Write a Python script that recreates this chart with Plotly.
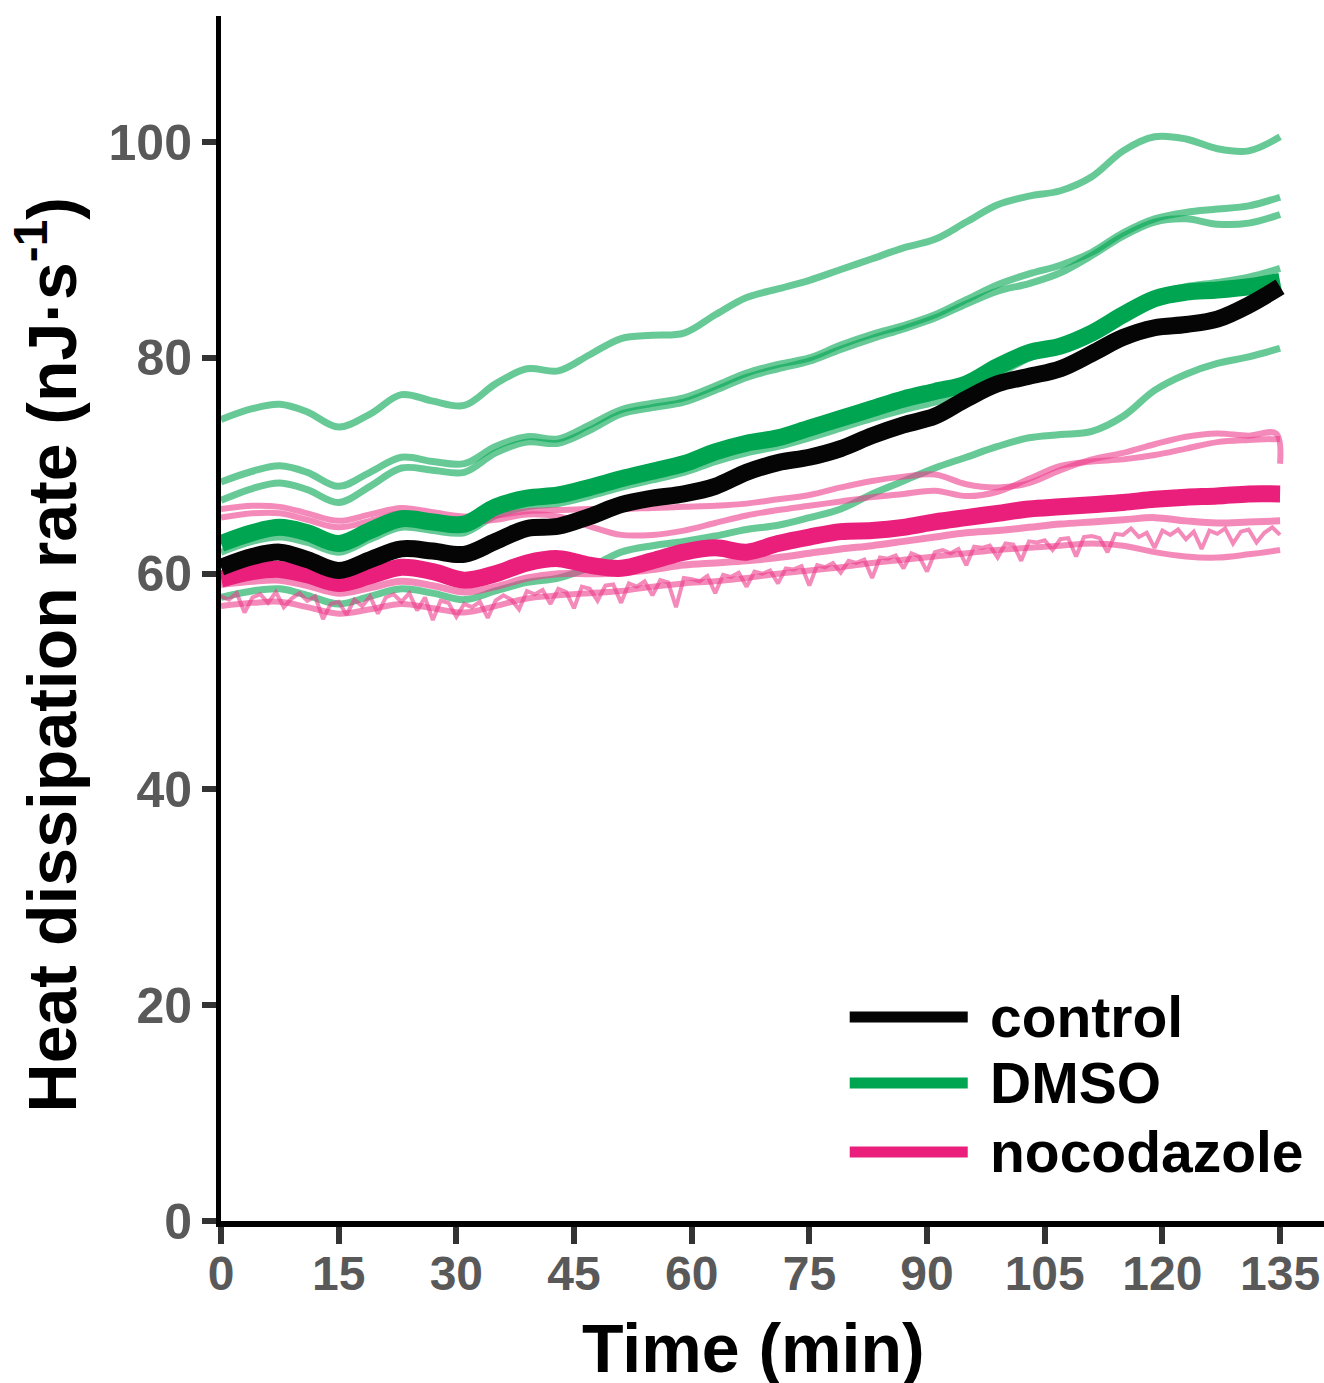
import plotly.graph_objects as go

# ---------------- data ----------------
t_grid = [0, 4, 7.5, 11, 15, 19, 23, 27, 31, 35, 39, 43, 47, 51, 55, 59, 63, 67, 71,
          75, 79, 83, 87, 91, 95, 99, 103, 107, 111, 115, 119, 123, 127, 131, 135]

control = [60.6, 61.6, 62.0, 61.3, 60.3, 61.3, 62.3, 62.1, 61.8, 63.0, 64.2, 64.4, 65.3,
           66.4, 67.0, 67.4, 68.1, 69.4, 70.3, 70.8, 71.6, 72.8, 73.8, 74.6, 76.2, 77.6,
           78.3, 79.0, 80.4, 81.9, 82.8, 83.1, 83.6, 84.9, 86.6]

dmso_mean = [62.8, 63.8, 64.3, 63.8, 62.8, 64.0, 65.1, 64.8, 64.6, 66.2, 67.0, 67.3, 68.0,
             68.8, 69.5, 70.2, 71.3, 72.1, 72.6, 73.5, 74.4, 75.3, 76.2, 76.9, 77.6, 79.2,
             80.5, 81.1, 82.3, 84.0, 85.5, 86.1, 86.3, 86.6, 87.1]

dmso_1 = [74.3, 75.3, 75.7, 75.0, 73.6, 74.8, 76.6, 76.0, 75.6, 77.6, 79.0, 78.8, 80.3,
          81.8, 82.1, 82.3, 84.0, 85.6, 86.4, 87.2, 88.2, 89.2, 90.2, 91.0, 92.6, 94.2,
          95.0, 95.5, 96.8, 99.2, 100.5, 100.3, 99.4, 99.2, 100.5]
dmso_2 = [68.5, 69.5, 70.0, 69.4, 68.1, 69.4, 70.8, 70.4, 70.2, 71.8, 72.7, 72.5, 73.8,
          75.2, 75.8, 76.3, 77.4, 78.6, 79.4, 80.0, 81.2, 82.2, 83.0, 84.0, 85.4, 86.8,
          87.8, 88.6, 89.8, 91.6, 92.9, 93.5, 93.8, 94.1, 94.9]
dmso_3 = [66.8, 67.9, 68.4, 67.8, 66.6, 68.1, 69.8, 69.6, 69.4, 71.2, 72.2, 72.1, 73.3,
          74.8, 75.4, 75.9, 77.0, 78.2, 79.0, 79.7, 80.8, 81.8, 82.7, 83.7, 85.0, 86.2,
          86.9, 87.9, 89.5, 91.3, 92.6, 92.9, 92.4, 92.5, 93.3]
dmso_4 = [62.0, 63.0, 63.4, 62.9, 62.0, 63.2, 64.3, 64.0, 63.8, 65.4, 66.2, 66.5, 67.2,
          68.0, 68.7, 69.4, 70.4, 71.2, 71.8, 72.6, 73.5, 74.4, 75.2, 75.9, 76.8, 78.4,
          80.0, 81.0, 82.4, 84.2, 85.8, 86.6, 87.0, 87.5, 88.3]
dmso_5 = [57.8, 58.4, 58.6, 58.0, 57.2, 57.9, 58.6, 58.2, 57.6, 58.4, 59.2, 59.6, 60.6,
          62.0, 62.6, 63.0, 63.5, 64.1, 64.5, 65.2, 66.0, 67.4, 68.6, 69.8, 70.8, 71.8,
          72.6, 72.9, 73.2, 74.6, 77.0, 78.5, 79.5, 80.1, 80.9]

noco_mean = [59.5, 60.2, 60.4, 59.9, 59.1, 59.8, 60.6, 60.2, 59.4, 60.0, 61.0, 61.4, 60.8,
             60.5, 61.2, 62.0, 62.4, 62.0, 62.8, 63.4, 63.9, 64.0, 64.3, 64.8, 65.2, 65.6,
             66.0, 66.2, 66.4, 66.6, 66.9, 67.1, 67.2, 67.4, 67.4]

t_noco_1 = [0, 4, 7.5, 11, 15, 19, 23, 27, 31, 35, 39, 43, 47, 51, 55, 59, 63, 67, 71,
            75, 79, 83, 87, 91, 95, 99, 103, 107, 111, 115, 119, 123, 127, 131, 134.5, 135]
noco_1 = [66.0, 66.3, 66.2, 65.6, 64.9, 65.5, 66.1, 65.7, 65.3, 65.4, 65.8, 65.9, 66.0,
          66.0, 66.1, 66.2, 66.3, 66.5, 66.9, 67.3, 68.0, 68.6, 69.0, 69.2, 68.3, 68.0,
          68.4, 69.6, 70.6, 71.2, 72.0, 72.7, 73.0, 72.8, 73.0, 70.2]
noco_2 = [65.2, 65.6, 65.6, 65.0, 64.3, 64.9, 65.6, 65.2, 64.8, 65.0, 65.5, 65.3, 64.4,
          63.6, 63.6, 64.0, 64.7, 65.4, 65.9, 66.3, 66.7, 67.1, 67.4, 67.7, 67.2, 67.6,
          68.8, 70.0, 70.4, 70.6, 71.0, 71.6, 72.2, 72.4, 72.5]
noco_3 = [59.0, 59.3, 59.4, 58.9, 58.2, 58.7, 59.3, 58.9, 58.3, 58.8, 59.6, 60.0, 60.0,
          60.1, 60.4, 60.8, 61.0, 61.2, 61.5, 61.9, 62.3, 62.6, 63.0, 63.4, 63.8, 64.0,
          64.3, 64.6, 64.8, 65.0, 65.2, 64.9, 64.7, 64.8, 64.9]
noco_5 = [57.0, 57.3, 57.4, 56.9, 56.3, 56.7, 57.2, 56.8, 56.4, 57.0, 57.7, 58.0, 58.2,
          58.4, 58.8, 59.1, 59.3, 59.6, 60.0, 60.3, 60.6, 61.0, 61.3, 61.6, 61.9, 62.2,
          62.4, 62.6, 62.8, 62.6, 62.0, 61.6, 61.5, 61.8, 62.2]

# noisy nocodazole trace, one reading per minute
t_minutes = list(range(0, 136))
noco_4 = [57.9, 57.6, 58.2, 56.4, 57.8, 58.1, 57.3, 58.3, 56.9, 57.7, 58.2,
          57.5, 57.9, 55.8, 57.2, 57.4, 56.2, 57.6, 57.0, 57.9, 56.3,
          57.8, 58.1, 57.4, 58.2, 56.6, 57.8, 55.7, 57.5, 57.3, 56.0,
          57.2, 56.9, 57.4, 55.9, 57.5, 58.0, 57.6, 56.7, 58.4, 58.1,
          58.5, 57.2, 58.6, 58.3, 56.8, 58.8, 58.6, 57.5, 58.9, 59.0,
          57.3, 59.1, 58.8, 59.3, 58.0, 59.4, 59.2, 56.9, 59.6, 59.5,
          59.3, 59.8, 58.2, 59.9, 59.7, 60.1, 58.8, 60.2, 60.0, 60.3,
          59.1, 60.5, 60.4, 60.7, 58.9, 60.8, 60.6, 61.0, 60.1, 61.2,
          61.0, 61.3, 59.6, 61.5, 61.4, 61.7, 60.5, 61.9, 61.6, 60.2,
          62.0, 62.2, 61.9, 62.3, 60.8, 62.5, 62.4, 62.6, 61.5, 62.8,
          62.7, 61.2, 63.0, 62.9, 63.1, 62.2, 63.2, 63.3, 61.6, 63.4,
          63.5, 63.3, 62.0, 63.7, 63.6, 64.2, 63.4, 63.8, 62.4, 64.0,
          63.6, 64.1, 63.2, 63.9, 62.3, 64.0, 63.7, 64.2, 62.8, 63.9,
          64.1, 62.9, 63.8, 64.3, 63.6]

x_ticks = [0, 15, 30, 45, 60, 75, 90, 105, 120, 135]
y_ticks = [0, 20, 40, 60, 80, 100]
legend_names = ["control", "DMSO", "nocodazole"]

# ---------------- styles ----------------
BLACK = "#050505"
GREEN = "#00A551"
MAGENTA = "#E91F7B"
LIGHT_GREEN = "rgba(0,165,80,0.6)"
LIGHT_PINK = "rgba(236,60,140,0.6)"
FONT = "Liberation Sans, Arial, sans-serif"

fig = go.Figure()

def add(x, y, color, width, shape="spline"):
    fig.add_trace(go.Scatter(x=x, y=y, mode="lines", showlegend=False, hoverinfo="skip",
                             line=dict(color=color, width=width, shape=shape)))

for g in [dmso_1, dmso_2, dmso_3, dmso_4, dmso_5]:
    add(t_grid, g, LIGHT_GREEN, 7)
add(t_noco_1, noco_1, LIGHT_PINK, 6)
add(t_grid, noco_2, LIGHT_PINK, 6)
add(t_grid, noco_3, LIGHT_PINK, 7)
add(t_grid, noco_5, LIGHT_PINK, 6)
add(t_minutes, noco_4, LIGHT_PINK, 4, shape="linear")

add(t_grid, dmso_mean, GREEN, 17)
add(t_grid, noco_mean, MAGENTA, 17)
add(t_grid, control, BLACK, 17)

# ---------------- legend (drawn manually for long line samples) ----------------
legend_colors = [BLACK, GREEN, MAGENTA]
legend_y = [0.1693, 0.1145, 0.0573]
for name, col, yy in zip(legend_names, legend_colors, legend_y):
    fig.add_shape(type="line", xref="paper", yref="paper", x0=0.570, x1=0.677, y0=yy, y1=yy,
                  line=dict(color=col, width=11))
    fig.add_annotation(xref="paper", yref="paper", x=0.695, y=yy, text=f"<b>{name}</b>",
                       showarrow=False, xanchor="left", yanchor="middle",
                       font=dict(family=FONT, size=57, color="#000"))

# ---------------- axis titles ----------------
fig.add_annotation(xref="paper", yref="paper", x=0.483, y=-0.105, text="<b>Time (min)</b>",
                   showarrow=False, xanchor="center", yanchor="middle",
                   font=dict(family=FONT, size=68, color="#000"))
fig.add_annotation(xref="paper", yref="paper", x=-0.158, y=0.470,
                   text="<b>Heat dissipation rate (nJ·s<sup>-1</sup>)</b>",
                   showarrow=False, xanchor="center", yanchor="middle", textangle=-90,
                   font=dict(family=FONT, size=68, color="#000"))

fig.update_layout(
    width=1324, height=1383,
    margin=dict(l=221, r=0, t=16, b=162),
    paper_bgcolor="white", plot_bgcolor="white",
    xaxis=dict(range=[0, 140.6], tickvals=x_ticks, showgrid=False, zeroline=False,
               showline=True, linecolor="#000", linewidth=6,
               ticks="outside", ticklen=17, tickwidth=6, tickcolor="#333",
               ticklabelstandoff=-12,
               tickfont=dict(family=FONT, size=48, color="#595959", weight="bold")),
    yaxis=dict(range=[0, 111.7], tickvals=y_ticks, showgrid=False, zeroline=False,
               showline=True, linecolor="#000", linewidth=5,
               ticks="outside", ticklen=14, tickwidth=6, tickcolor="#333",
               tickfont=dict(family=FONT, size=50, color="#595959", weight="bold")),
)

fig.write_html("out.html")
